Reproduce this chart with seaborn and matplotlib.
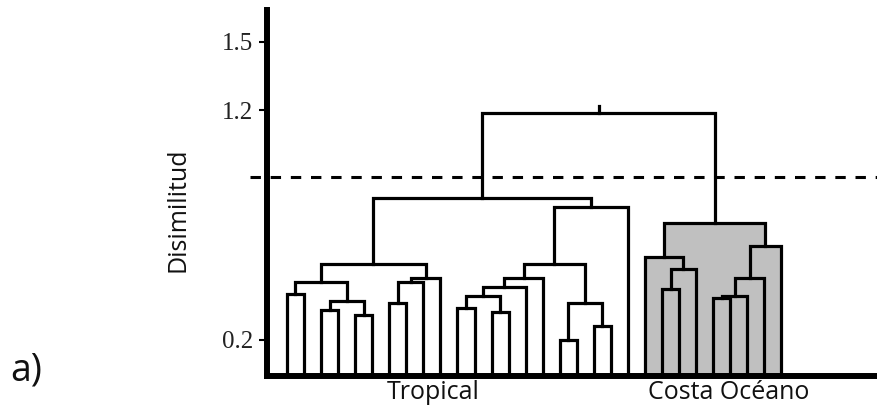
import numpy as np
import pandas as pd
import matplotlib
matplotlib.use("Agg")
import matplotlib.pyplot as plt
import seaborn as sns

# Hierarchical clustering of 30 sites (display order 0..29).
# Merges follow the scipy linkage convention: ids >= n_sites refer to earlier merges.
n_sites = 30
merge_a = [0, 2, 4, 31, 30, 6, 35, 36, 34, 10, 12, 39, 41, 42, 16, 18, 44, 43, 47, 38,
           22, 50, 21, 25, 53, 54, 55, 52, 49]
merge_b = [1, 3, 5, 32, 33, 7, 8, 9, 37, 11, 13, 40, 14, 15, 17, 19, 45, 46, 20, 48,
           23, 24, 51, 26, 27, 28, 29, 56, 57]
merge_height = [0.40, 0.33, 0.31, 0.37, 0.45, 0.36, 0.45, 0.47, 0.53, 0.34, 0.32, 0.39,
                0.43, 0.47, 0.20, 0.26, 0.36, 0.53, 0.78, 0.82, 0.42, 0.51, 0.56, 0.38,
                0.39, 0.47, 0.61, 0.71, 1.19]

shaded_sites = list(range(21, 30))          # "Costa Océano" group
group_labels = ["Tropical", "Costa Océano"]
group_label_pos = [8.6, 25.9]               # in site-index units
cut_height = 0.91
root_stub_top = 1.22
y_ticks = [0.2, 1.2, 1.5]
y_tick_labels = ["0.2", "1.2", "1.5"]

base = 0.042
y_min, y_max = base, 1.638
x_min, x_max = -1.17, 34.66

sns.set_theme(style="white")
plt.rcParams["font.family"] = ["Open Sans", "DejaVu Sans"]
plt.rcParams["lines.solid_joinstyle"] = "miter"
plt.rcParams["lines.solid_capstyle"] = "projecting"

# node positions / heights / members
node_x = {i: float(i) for i in range(n_sites)}
node_h = {i: base for i in range(n_sites)}
members = {i: {i} for i in range(n_sites)}

rows = []
fills = []
for k, (a, b, h) in enumerate(zip(merge_a, merge_b, merge_height)):
    nid = n_sites + k
    xa, xb = node_x[a], node_x[b]
    rows += [
        {"link": nid, "x": xa, "y": node_h[a]},
        {"link": nid, "x": xa, "y": h},
        {"link": nid, "x": xb, "y": h},
        {"link": nid, "x": xb, "y": node_h[b]},
    ]
    node_x[nid] = (xa + xb) / 2
    node_h[nid] = h
    members[nid] = members[a] | members[b]
    if members[nid] <= set(shaded_sites):
        fills.append((xa, xb, h))

root = n_sites + len(merge_height) - 1
rows += [
    {"link": root + 1, "x": node_x[root], "y": node_h[root]},
    {"link": root + 1, "x": node_x[root], "y": root_stub_top},
]
segments = pd.DataFrame(rows)

fig = plt.figure(figsize=(8.78, 4.17), dpi=100)
ax = fig.add_axes([267 / 878, 1 - 376 / 417, 1 - 267 / 878, (376 - 10) / 417])

for xa, xb, h in fills:
    ax.fill_between([xa, xb], base, h, color="#c0c0c0", lw=0, zorder=1)

sns.lineplot(data=segments, x="x", y="y", units="link", estimator=None, sort=False,
             color="black", linewidth=2.3, legend=False, ax=ax, zorder=3)

# cut line
ax.plot([-0.028, 1.0], [cut_height, cut_height], color="black", lw=2.2,
        dashes=(3.4, 3.2), transform=ax.get_yaxis_transform(), clip_on=False, zorder=2)

ax.set_xlim(x_min, x_max)
ax.set_ylim(y_min, y_max)

for side in ["top", "right"]:
    ax.spines[side].set_visible(False)
for side in ["left", "bottom"]:
    ax.spines[side].set_linewidth(4.3)
    ax.spines[side].set_color("black")
    ax.spines[side].set_zorder(5)

ax.set_yticks(y_ticks)
ax.set_yticklabels(y_tick_labels, fontfamily="Liberation Serif", fontsize=18, color="#222222")
ax.tick_params(axis="y", which="major", direction="out", length=6, width=1.5,
               pad=4, color="black", left=True)

ax.set_xticks(group_label_pos)
ax.set_xticklabels(group_labels, fontsize=18, color="#111111")
ax.tick_params(axis="x", length=0, pad=3)

ax.set_xlabel("")
ax.set_ylabel("Disimilitud", fontsize=18, color="#111111")
ax.yaxis.set_label_coords(-0.126, 0.454)

fig.text(10 / 878, 1 - 370 / 417, "a)", fontsize=27, ha="left", va="center", color="#111111")

fig.savefig("out.png", dpi=100)
